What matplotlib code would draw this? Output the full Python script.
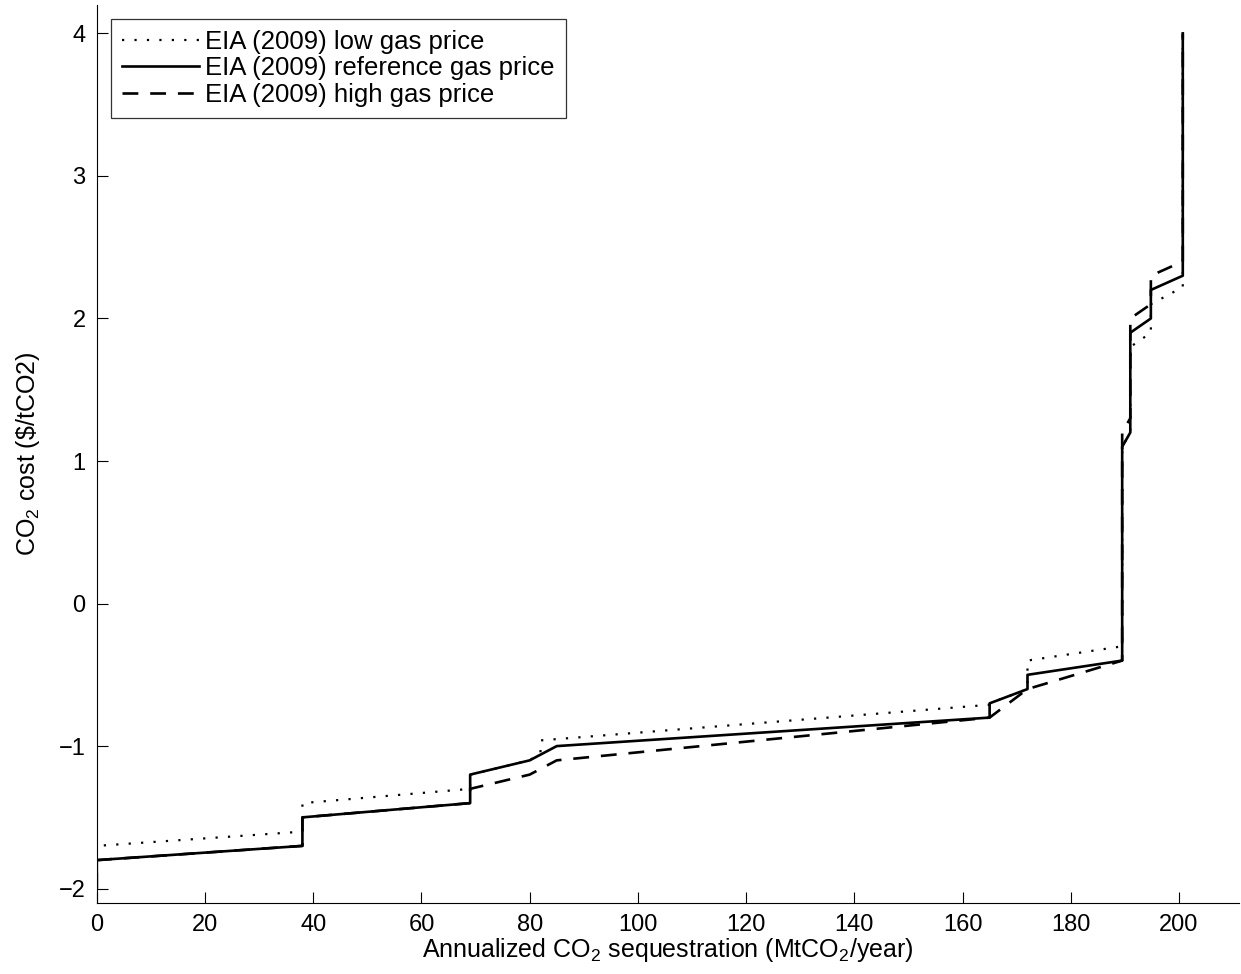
import matplotlib
matplotlib.use("Agg")
import matplotlib.pyplot as plt

plt.rcParams["font.family"] = ["Liberation Sans", "DejaVu Sans"]
plt.rcParams["mathtext.default"] = "regular"

# step curves (x: MtCO2/year, y: $/tCO2)
low_x = [0, 0, 38, 38, 69, 69, 80, 82, 82, 165, 165, 172, 172, 189.5, 189.5, 191, 191, 194.8, 194.8, 200.7, 200.7]
low_y = [-2.0, -1.7, -1.6, -1.4, -1.3, -1.2, -1.1, -1.05, -0.96, -0.71, -0.7, -0.6, -0.4, -0.3, 1.1, 1.2, 1.8, 1.9, 2.1, 2.22, 4.0]

ref_x = [0, 0, 38, 38, 69, 69, 80, 85, 165, 165, 172, 172, 189.5, 189.5, 191, 191, 194.8, 194.8, 200.7, 200.7]
ref_y = [-2.0, -1.8, -1.7, -1.5, -1.4, -1.2, -1.1, -1.0, -0.8, -0.7, -0.6, -0.5, -0.4, 1.1, 1.2, 1.9, 2.0, 2.2, 2.3, 4.0]

high_x = [0, 0, 38, 38, 69, 69, 80, 85, 165, 172, 189.5, 189.5, 191, 191, 194.8, 194.8, 200.7, 200.7]
high_y = [-2.0, -1.8, -1.7, -1.5, -1.4, -1.3, -1.2, -1.1, -0.8, -0.6, -0.4, 1.2, 1.3, 2.0, 2.1, 2.3, 2.4, 4.0]

xticks = list(range(0, 201, 20))
yticks = [-2, -1, 0, 1, 2, 3, 4]

fig = plt.figure(figsize=(12.41, 9.74), dpi=100)
ax = fig.add_axes([0.078, 0.073, 0.92, 0.922])

ax.plot(low_x, low_y, color="black", lw=1.6, linestyle=(0, (1, 4.6)),
        label="EIA (2009) low gas price")
ax.plot(ref_x, ref_y, color="black", lw=1.9, linestyle="-",
        label="EIA (2009) reference gas price")
ax.plot(high_x, high_y, color="black", lw=1.9, linestyle=(0, (6, 4.5)),
        label="EIA (2009) high gas price")

ax.set_xlim(0, 211)
ax.set_ylim(-2.1, 4.2)
ax.set_xticks(xticks)
ax.set_yticks(yticks)
ax.tick_params(direction="in", length=8, width=0.8, labelsize=17, pad=8)
ax.spines["top"].set_visible(False)
ax.spines["right"].set_visible(False)

ax.set_xlabel("Annualized CO$_2$ sequestration (MtCO$_2$/year)", fontsize=18, labelpad=0)
ax.set_ylabel("CO$_2$ cost (\\$/tCO2)", fontsize=18, labelpad=12)

leg = ax.legend(loc="upper left", fontsize=18.5, frameon=True, fancybox=False,
                edgecolor="black", handlelength=3.0, handletextpad=0.25,
                borderaxespad=0.55, borderpad=0.42, labelspacing=0.1)
leg.get_frame().set_linewidth(0.9)

fig.savefig("out.png", dpi=100)
